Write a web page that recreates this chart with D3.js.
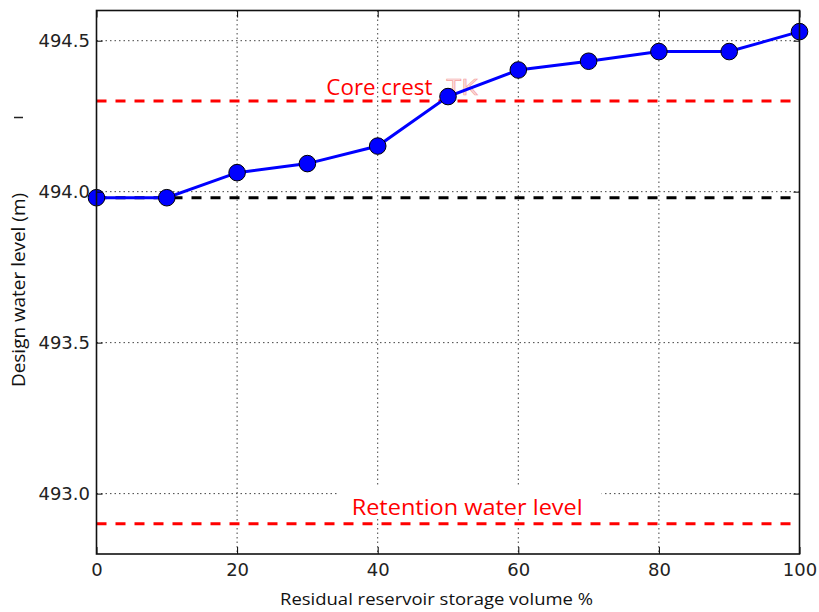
<!DOCTYPE html>
<html>
<head>
<meta charset="utf-8">
<script src="https://cdn.jsdelivr.net/npm/d3@7"></script>
<style>
  body { margin: 0; background: #fff; }
  svg { display: block; }
</style>
</head>
<body>
<div id="chart"></div>
<script>
// Data
const volumes = [0, 10, 20, 30, 40, 50, 60, 70, 80, 90, 100];
const levels = [493.98, 493.98, 494.063, 494.093, 494.151, 494.315, 494.403, 494.432, 494.464, 494.464, 494.53];
const coreCrest = 494.30;
const retentionLevel = 492.90;
const startLevel = 493.98;
const xTicks = [0, 20, 40, 60, 80, 100];
const yTicks = [493.0, 493.5, 494.0, 494.5];

const W = 819, H = 612;
const margin = { top: 10.5, right: 19.5, bottom: 58, left: 96.5 },
      width = W - margin.left - margin.right,
      height = H - margin.top - margin.bottom;

const svg = d3.select("#chart").append("svg")
    .attr("width", W)
    .attr("height", H);

const g = svg.append("g")
    .attr("transform", `translate(${margin.left},${margin.top})`);

const x = d3.scaleLinear().domain([0, 100]).range([0, width]);
const y = d3.scaleLinear().domain([492.8, 494.6]).range([height, 0]);

// grid lines
const grid = g.append("g").attr("class", "grid");
grid.selectAll(".gx").data(xTicks.slice(1, -1)).join("line")
    .attr("x1", d => x(d)).attr("x2", d => x(d))
    .attr("y1", 0).attr("y2", height)
    .attr("stroke", "#444").attr("stroke-width", 1)
    .attr("stroke-dasharray", "1.5,3");
grid.selectAll(".gy").data(yTicks).join("line")
    .attr("x1", 0).attr("x2", width)
    .attr("y1", d => y(d)).attr("y2", d => y(d))
    .attr("stroke", "#444").attr("stroke-width", 1)
    .attr("stroke-dasharray", "1.5,3");

// retention label sits on a white box that hides the grid
const retX = x(36.3), retY = y(retentionLevel) - 9;
g.append("rect")
    .attr("x", x(34.3)).attr("y", retY - 28)
    .attr("width", 264).attr("height", 32)
    .attr("fill", "#fff");
g.append("text")
    .attr("x", retX).attr("y", retY)
    .attr("font-family", "Open Sans")
    .attr("font-size", 22)
    .attr("fill", "#ff0000")
    .attr("textLength", 231)
    .attr("lengthAdjust", "spacingAndGlyphs")
    .text("Retention water level");

// core crest label
const ccY = y(coreCrest) - 5.7;
g.append("text")
    .attr("x", x(32.7)).attr("y", ccY)
    .attr("font-family", "Open Sans")
    .attr("font-size", 21)
    .attr("fill", "#ff0000")
    .attr("textLength", 106)
    .attr("lengthAdjust", "spacingAndGlyphs")
    .text("Core crest");
g.append("text")
    .attr("x", x(49.8)).attr("y", ccY)
    .attr("font-family", "Open Sans")
    .attr("font-size", 21)
    .attr("fill", "#fde4e4")
    .attr("stroke", "#f4a0a0")
    .attr("stroke-width", 0.6)
    .attr("textLength", 31)
    .attr("lengthAdjust", "spacingAndGlyphs")
    .text("TK");

// reference dashed lines
const refs = [
    { v: coreCrest, c: "#ff0000" },
    { v: retentionLevel, c: "#ff0000" },
    { v: startLevel, c: "#000000" }
];
g.selectAll(".ref").data(refs).join("line")
    .attr("x1", 0).attr("x2", width)
    .attr("y1", d => y(d.v)).attr("y2", d => y(d.v))
    .attr("stroke", d => d.c)
    .attr("stroke-width", 3)
    .attr("stroke-dasharray", "10,9");

// data line + markers
const pts = volumes.map((v, i) => [v, levels[i]]);
g.append("path")
    .datum(pts)
    .attr("fill", "none")
    .attr("stroke", "#0000ff")
    .attr("stroke-width", 3)
    .attr("d", d3.line().x(d => x(d[0])).y(d => y(d[1])));

g.selectAll(".pt").data(pts).join("circle")
    .attr("cx", d => x(d[0]))
    .attr("cy", d => y(d[1]))
    .attr("r", 8.3)
    .attr("fill", "#0000ff")
    .attr("stroke", "#000")
    .attr("stroke-width", 1);

// axes with inward ticks
const fmtY = d3.format(".1f");
const axB = g.append("g").attr("transform", `translate(0,${height})`)
    .call(d3.axisBottom(x).tickValues(xTicks).tickSizeInner(-7).tickSizeOuter(0).tickPadding(9));
const axL = g.append("g")
    .call(d3.axisLeft(y).tickValues(yTicks).tickFormat(fmtY).tickSizeInner(-6).tickSizeOuter(0).tickPadding(6.5));
g.append("g").attr("transform", `translate(${width},0)`)
    .call(d3.axisRight(y).tickValues(yTicks).tickSizeInner(-6).tickSizeOuter(0).tickFormat(""));
g.append("g")
    .call(d3.axisTop(x).tickValues(xTicks).tickSizeInner(-7).tickSizeOuter(0).tickFormat(""));

g.selectAll(".domain").remove();
g.selectAll(".tick line").attr("stroke", "#000").attr("stroke-width", 1);
g.selectAll(".tick text")
    .attr("font-family", "DejaVu Sans")
    .attr("font-size", 18)
    .attr("fill", "#222");

// frame
g.append("rect")
    .attr("x", 0).attr("y", 0)
    .attr("width", width).attr("height", height)
    .attr("fill", "none")
    .attr("stroke", "#111")
    .attr("stroke-width", 1.6);

// axis titles
svg.append("text")
    .attr("x", 436.5).attr("y", 605)
    .attr("text-anchor", "middle")
    .attr("font-family", "Open Sans")
    .attr("font-size", 16)
    .attr("fill", "#111")
    .attr("textLength", 313)
    .attr("lengthAdjust", "spacingAndGlyphs")
    .text("Residual reservoir storage volume %");

svg.append("text")
    .attr("transform", "translate(24.5,290) rotate(-90)")
    .attr("text-anchor", "middle")
    .attr("font-family", "Open Sans")
    .attr("font-size", 18)
    .attr("fill", "#111")
    .attr("textLength", 194)
    .attr("lengthAdjust", "spacingAndGlyphs")
    .text("Design water level (m)");

// stray mark left of the axis title
svg.append("line")
    .attr("x1", 14).attr("x2", 23)
    .attr("y1", 117.5).attr("y2", 117.5)
    .attr("stroke", "#222").attr("stroke-width", 1.5);
</script>
</body>
</html>
